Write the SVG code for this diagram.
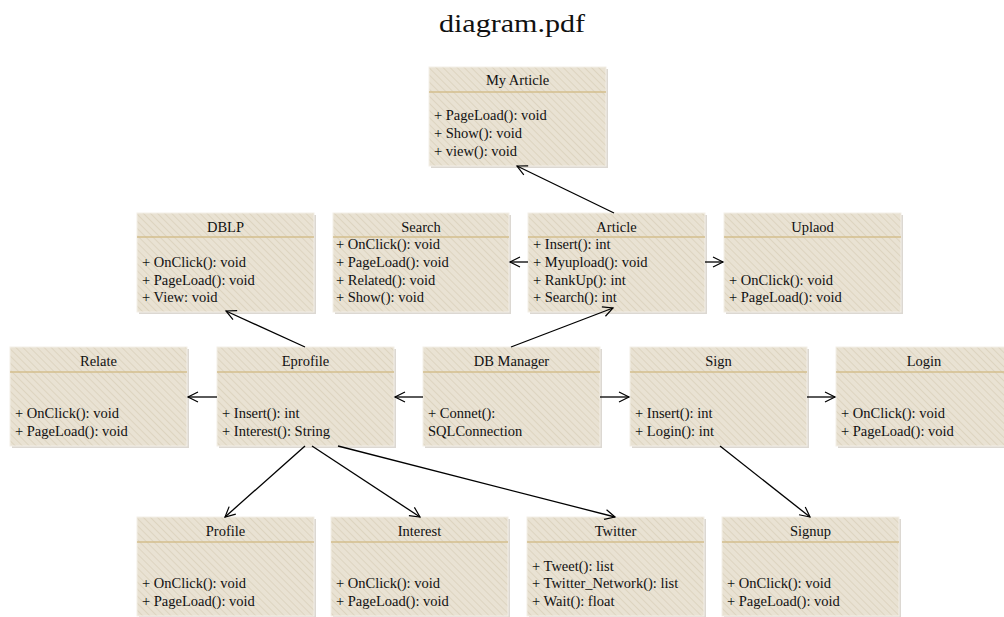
<svg xmlns="http://www.w3.org/2000/svg" width="1004" height="617" viewBox="0 0 1004 617">
<defs>
<pattern id="hatch" patternUnits="userSpaceOnUse" width="5" height="5" patternTransform="rotate(-45)">
<rect width="5" height="5" fill="#e9e2d3"/>
<line x1="0" y1="0" x2="0" y2="5" stroke="#ddd4c0" stroke-width="2"/>
</pattern>
<marker id="arr" markerUnits="userSpaceOnUse" markerWidth="14" markerHeight="14" refX="11" refY="6" orient="auto">
<path d="M1,1 L11,6 L1,11" fill="none" stroke="#000" stroke-width="1.2"/>
</marker>
</defs>
<style>
.sh{fill:#cdc8bf;opacity:0.7}
.bx{fill:url(#hatch);stroke:#f3efe7;stroke-width:1}
.hd{stroke:#d3be8d;stroke-width:1.5}
.t{font-family:'Liberation Serif','Times New Roman',Times,serif;font-size:14.5px;fill:#111}
.c{text-anchor:middle}
.cn line{stroke:#000;stroke-width:1.3;marker-end:url(#arr)}
</style>
<rect width="1004" height="617" fill="#fff"/>
<text x="512" y="32" font-family="'Liberation Serif','Times New Roman',Times,serif" font-size="25" text-anchor="middle" textLength="146" lengthAdjust="spacingAndGlyphs" fill="#111">diagram.pdf</text>

<g id="myarticle">
<rect class="sh" x="431" y="69" width="177" height="99"/>
<rect class="bx" x="429" y="67" width="177" height="99"/>
<line class="hd" x1="429" y1="92" x2="606" y2="92"/>
<text class="t c" x="517.5" y="85">My Article</text>
<text class="t" x="434" y="120">+ PageLoad(): void</text>
<text class="t" x="434" y="138">+ Show(): void</text>
<text class="t" x="434" y="156">+ view(): void</text>
</g>

<g id="dblp">
<rect class="sh" x="139" y="215" width="177" height="99"/>
<rect class="bx" x="137" y="213" width="177" height="99"/>
<line class="hd" x1="137" y1="237" x2="314" y2="237"/>
<text class="t c" x="225.5" y="232">DBLP</text>
<text class="t" x="142" y="267">+ OnClick(): void</text>
<text class="t" x="142" y="285">+ PageLoad(): void</text>
<text class="t" x="142" y="302">+ View: void</text>
</g>

<g id="search">
<rect class="sh" x="335" y="215" width="176" height="99"/>
<rect class="bx" x="333" y="213" width="176" height="99"/>
<line class="hd" x1="333" y1="237" x2="509" y2="237"/>
<text class="t c" x="421" y="232">Search</text>
<text class="t" x="336" y="249">+ OnClick(): void</text>
<text class="t" x="336" y="267">+ PageLoad(): void</text>
<text class="t" x="336" y="285">+ Related(): void</text>
<text class="t" x="336" y="302">+ Show(): void</text>
</g>

<g id="article">
<rect class="sh" x="530" y="215" width="177" height="99"/>
<rect class="bx" x="528" y="213" width="177" height="99"/>
<line class="hd" x1="528" y1="237" x2="705" y2="237"/>
<text class="t c" x="616.5" y="232">Article</text>
<text class="t" x="533" y="249">+ Insert(): int</text>
<text class="t" x="533" y="267">+ Myupload(): void</text>
<text class="t" x="533" y="285">+ RankUp(): int</text>
<text class="t" x="533" y="302">+ Search(): int</text>
</g>

<g id="uplaod">
<rect class="sh" x="726" y="215" width="177" height="99"/>
<rect class="bx" x="724" y="213" width="177" height="99"/>
<line class="hd" x1="724" y1="237" x2="901" y2="237"/>
<text class="t c" x="812.5" y="232">Uplaod</text>
<text class="t" x="729" y="285">+ OnClick(): void</text>
<text class="t" x="729" y="302">+ PageLoad(): void</text>
</g>

<g id="relate">
<rect class="sh" x="12" y="349" width="177" height="99"/>
<rect class="bx" x="10" y="347" width="177" height="99"/>
<line class="hd" x1="10" y1="372" x2="187" y2="372"/>
<text class="t c" x="98.5" y="366">Relate</text>
<text class="t" x="15" y="418">+ OnClick(): void</text>
<text class="t" x="15" y="436">+ PageLoad(): void</text>
</g>

<g id="eprofile">
<rect class="sh" x="219" y="349" width="177" height="99"/>
<rect class="bx" x="217" y="347" width="177" height="99"/>
<line class="hd" x1="217" y1="372" x2="394" y2="372"/>
<text class="t c" x="305.5" y="366">Eprofile</text>
<text class="t" x="222" y="418">+ Insert(): int</text>
<text class="t" x="222" y="436">+ Interest(): String</text>
</g>

<g id="dbmanager">
<rect class="sh" x="425" y="349" width="177" height="99"/>
<rect class="bx" x="423" y="347" width="177" height="99"/>
<line class="hd" x1="423" y1="372" x2="600" y2="372"/>
<text class="t c" x="511.5" y="366">DB Manager</text>
<text class="t" x="428" y="418">+ Connet():</text>
<text class="t" x="428" y="436">SQLConnection</text>
</g>

<g id="sign">
<rect class="sh" x="632" y="349" width="177" height="99"/>
<rect class="bx" x="630" y="347" width="177" height="99"/>
<line class="hd" x1="630" y1="372" x2="807" y2="372"/>
<text class="t c" x="718.5" y="366">Sign</text>
<text class="t" x="635" y="418">+ Insert(): int</text>
<text class="t" x="635" y="436">+ Login(): int</text>
</g>

<g id="login">
<rect class="sh" x="838" y="349" width="177" height="99"/>
<rect class="bx" x="836" y="347" width="177" height="99"/>
<line class="hd" x1="836" y1="372" x2="1013" y2="372"/>
<text class="t c" x="924" y="366">Login</text>
<text class="t" x="841" y="418">+ OnClick(): void</text>
<text class="t" x="841" y="436">+ PageLoad(): void</text>
</g>

<g id="profile">
<rect class="sh" x="139" y="519" width="177" height="99"/>
<rect class="bx" x="137" y="517" width="177" height="99"/>
<line class="hd" x1="137" y1="542" x2="314" y2="542"/>
<text class="t c" x="225.5" y="536">Profile</text>
<text class="t" x="142" y="588">+ OnClick(): void</text>
<text class="t" x="142" y="606">+ PageLoad(): void</text>
</g>

<g id="interest">
<rect class="sh" x="333" y="519" width="177" height="99"/>
<rect class="bx" x="331" y="517" width="177" height="99"/>
<line class="hd" x1="331" y1="542" x2="508" y2="542"/>
<text class="t c" x="419.5" y="536">Interest</text>
<text class="t" x="336" y="588">+ OnClick(): void</text>
<text class="t" x="336" y="606">+ PageLoad(): void</text>
</g>

<g id="twitter">
<rect class="sh" x="529" y="519" width="177" height="99"/>
<rect class="bx" x="527" y="517" width="177" height="99"/>
<line class="hd" x1="527" y1="542" x2="704" y2="542"/>
<text class="t c" x="615.5" y="536">Twitter</text>
<text class="t" x="532" y="571">+ Tweet(): list</text>
<text class="t" x="532" y="588">+ Twitter_Network(): list</text>
<text class="t" x="532" y="606">+ Wait(): float</text>
</g>

<g id="signup">
<rect class="sh" x="724" y="519" width="177" height="99"/>
<rect class="bx" x="722" y="517" width="177" height="99"/>
<line class="hd" x1="722" y1="542" x2="899" y2="542"/>
<text class="t c" x="810.5" y="536">Signup</text>
<text class="t" x="727" y="588">+ OnClick(): void</text>
<text class="t" x="727" y="606">+ PageLoad(): void</text>
</g>

<g id="connectors" class="cn">
<line x1="614" y1="213" x2="517" y2="166"/>
<line x1="528" y1="262" x2="510" y2="262"/>
<line x1="705" y1="262" x2="723" y2="262"/>
<line x1="511" y1="347" x2="613" y2="308"/>
<line x1="305" y1="347" x2="226" y2="311"/>
<line x1="217" y1="397" x2="188" y2="397"/>
<line x1="423" y1="397" x2="395" y2="397"/>
<line x1="600" y1="397" x2="629" y2="397"/>
<line x1="807" y1="397" x2="835" y2="397"/>
<line x1="720" y1="446" x2="810" y2="517"/>
<line x1="305" y1="446" x2="225" y2="517"/>
<line x1="312" y1="446" x2="420" y2="517"/>
<line x1="338" y1="446" x2="615" y2="517"/>
</g>
</svg>
